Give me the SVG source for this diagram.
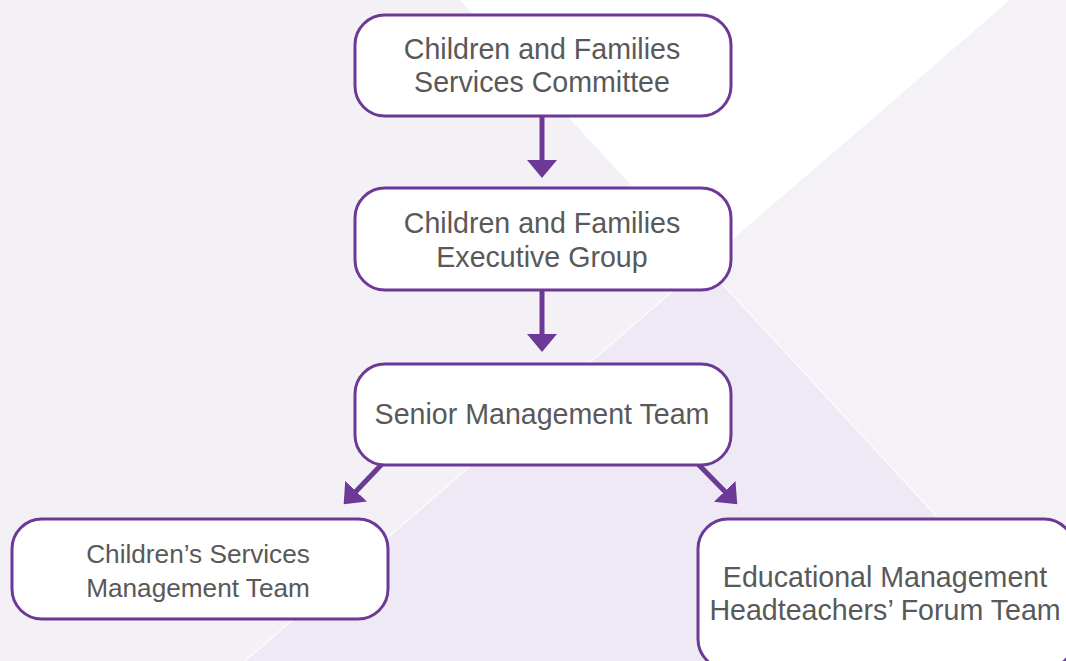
<svg xmlns="http://www.w3.org/2000/svg" width="1066" height="661" viewBox="0 0 1066 661">
  <style>
    .box { fill: #ffffff; stroke: #6c3996; stroke-width: 3; }
    .lbl { font-family: "Liberation Sans", Arial, sans-serif; font-size: 28.6px; fill: #595959; text-anchor: middle; }
    .lbl-sm { font-size: 26.2px; }
    .wire { stroke: #6c3996; stroke-width: 5; fill: none; marker-end: url(#head); }
    .seam { stroke: #ffffff; stroke-width: 1.5; stroke-opacity: 0.7; fill: none; }
  </style>
  <defs>
    <marker id="head" markerUnits="userSpaceOnUse" markerWidth="18" markerHeight="30" viewBox="0 0 18 30" refX="1" refY="15" orient="auto">
      <path d="M0,0 L18,15 L0,30 z" fill="#6c3996"/>
    </marker>
  </defs>

  <!-- backdrop: two crossing diagonals split the page into four panels -->
  <g id="backdrop">
    <rect x="0" y="0" width="1066" height="661" fill="#f3f1f6"/>
    <polygon points="1010,0 1066,0 1066,661 704,264" fill="#f4f2f7"/>
    <polygon points="460,0 1010,0 704,264" fill="#ffffff"/>
    <polygon points="704,264 1070,661 245,661" fill="#eee9f4"/>
    <line class="seam" x1="704" y1="264" x2="245" y2="661"/>
    <line class="seam" x1="704" y1="264" x2="1070" y2="661"/>
  </g>

  <g id="connectors">
    <line class="wire" x1="542" y1="116" x2="542" y2="161"/>
    <line class="wire" x1="542" y1="290" x2="542" y2="335"/>
    <line class="wire" x1="383" y1="463" x2="355.4" y2="492"/>
    <line class="wire" x1="697" y1="463" x2="725.4" y2="492.1"/>
  </g>

  <g id="services-committee">
    <rect class="box" x="355" y="15" width="376" height="101" rx="30" ry="30"/>
    <text class="lbl" x="542" y="59">Children and Families</text>
    <text class="lbl" x="542" y="92">Services Committee</text>
  </g>

  <g id="executive-group">
    <rect class="box" x="355" y="188" width="376" height="102" rx="30" ry="30"/>
    <text class="lbl" x="542" y="233">Children and Families</text>
    <text class="lbl" x="542" y="267">Executive Group</text>
  </g>

  <g id="senior-management">
    <rect class="box" x="355" y="364" width="376" height="101" rx="30" ry="30"/>
    <text class="lbl" x="542" y="424">Senior Management Team</text>
  </g>

  <g id="childrens-services">
    <rect class="box" x="12" y="519" width="376" height="100" rx="30" ry="30"/>
    <text class="lbl lbl-sm" x="198" y="563">Children’s Services</text>
    <text class="lbl lbl-sm" x="198" y="597">Management Team</text>
  </g>

  <g id="educational-management">
    <rect class="box" x="698" y="519" width="376" height="150" rx="30" ry="30"/>
    <text class="lbl" x="885" y="587">Educational Management</text>
    <text class="lbl" x="885" y="620">Headteachers’ Forum Team</text>
  </g>
</svg>
